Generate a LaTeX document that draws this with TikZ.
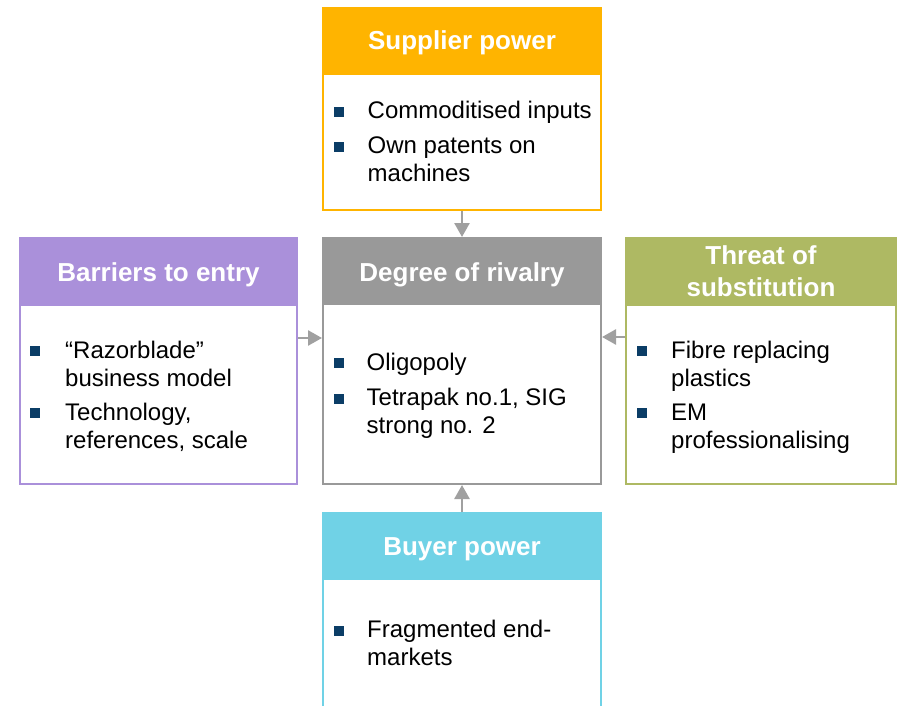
\documentclass[tikz,border=0pt]{standalone}
\usepackage{fontspec}
\setmainfont{Liberation Sans}
\usetikzlibrary{arrows.meta}
\definecolor{cOrange}{RGB}{255,180,0}
\definecolor{cPurple}{RGB}{170,144,218}
\definecolor{cGray}{RGB}{153,153,153}
\definecolor{cOlive}{RGB}{174,185,99}
\definecolor{cCyan}{RGB}{112,210,230}
\definecolor{cBullet}{RGB}{11,61,102}
\definecolor{cArrow}{RGB}{160,160,160}
\begin{document}
\begin{tikzpicture}[x=1pt,y=-1pt,
  hdr/.style={fill=#1, draw=none, inner sep=0pt, outer sep=0pt, anchor=north west},
  bodybox/.style={draw=#1, line width=2pt, fill=white, inner sep=0pt, anchor=north west},
  htext/.style={text=white, font=\fontsize{26}{32}\selectfont\bfseries, anchor=base, align=center, inner sep=0pt},
  btext/.style={text=black, font=\fontsize{24}{28}\selectfont, anchor=base west, align=left, inner sep=0pt},
  bul/.style={fill=cBullet, minimum size=10pt, inner sep=0pt, outer sep=0pt},
  arr/.style={draw=cArrow, line width=2.6pt, -{Triangle[width=15pt,length=14pt]}}]
\useasboundingbox (0,0) rectangle (900,706);
\clip (0,0) rectangle (900,706);
% Supplier power
\node[bodybox=cOrange, minimum width=278pt, minimum height=136pt] (supB) at (322,73) {};
\node[hdr=cOrange, minimum width=280pt, minimum height=66pt] (supH) at (322,7) {};
\node[htext] (supT) at (462,50) {Supplier power};
\node[bul] (supb1) at (338.5,112) {};
\node[btext] (supt1) at (367.5,119) {Commoditised inputs};
\node[bul] (supb2) at (338.5,147) {};
\node[btext] (supt2) at (367.5,182) {Own patents on\\machines};
% Degree of rivalry
\node[bodybox=cGray, minimum width=278pt, minimum height=180pt] (rivB) at (322,303) {};
\node[hdr=cGray, minimum width=280pt, minimum height=66pt] (rivH) at (322,237) {};
\node[htext] (rivT) at (462,281) {Degree of rivalry};
\node[bul] (rivb1) at (338.5,363) {};
\node[btext] (rivt1) at (366.5,370) {Oligopoly};
\node[bul] (rivb2) at (338.5,398.5) {};
\node[btext] (rivt2) at (366.5,433.5) {Tetrapak no.1, SIG\\strong no. 2};
% Barriers to entry
\node[bodybox=cPurple, minimum width=277pt, minimum height=179pt] (barB) at (19,304) {};
\node[hdr=cPurple, minimum width=279pt, minimum height=67pt] (barH) at (19,237) {};
\node[htext] (barT) at (158.5,281) {Barriers to entry};
\node[bul] (barb1) at (34.5,351) {};
\node[btext] (bart1) at (65,386) {“Razorblade”\\business model};
\node[bul] (barb2) at (34.5,413) {};
\node[btext] (bart2) at (65,448) {Technology,\\references, scale};
% Threat of substitution
\node[bodybox=cOlive, minimum width=270pt, minimum height=179pt] (thrB) at (625,304) {};
\node[hdr=cOlive, minimum width=272pt, minimum height=67pt] (thrH) at (625,237) {};
\node[htext] (thrT) at (761,296) {Threat of\\substitution};
\node[bul] (thrb1) at (641.5,351) {};
\node[btext] (thrt1) at (671,386) {Fibre replacing\\plastics};
\node[bul] (thrb2) at (641.5,413) {};
\node[btext] (thrt2) at (671,448) {EM\\professionalising};
% Buyer power
\node[bodybox=cCyan, minimum width=278pt, minimum height=160pt] (buyB) at (322,578) {};
\node[hdr=cCyan, minimum width=280pt, minimum height=66pt] (buyH) at (322,512) {};
\node[htext] (buyT) at (462,555) {Buyer power};
\node[bul] (buyb1) at (338.5,630.5) {};
\node[btext] (buyt1) at (367,665.5) {Fragmented end-\\markets};
% Arrows
\draw[arr] (supB.south) -- (rivH.north);
\draw[arr] (buyH.north) -- (rivB.south);
\draw[arr] ([yshift=-34pt]barB.north east) -- ([yshift=-34pt]barB.north east -| rivB.west);
\draw[arr] ([yshift=-33pt]thrB.north west) -- ([yshift=-33pt]thrB.north west -| rivB.east);
\end{tikzpicture}
\end{document}
